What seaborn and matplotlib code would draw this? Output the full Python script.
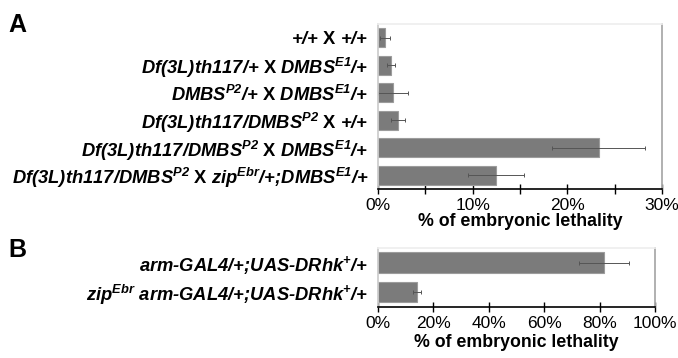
import matplotlib
matplotlib.use("Agg")
import matplotlib.pyplot as plt
from matplotlib.ticker import MultipleLocator, PercentFormatter
import numpy as np
import pandas as pd
import seaborn as sns

# Panel A: crosses and lethality (%)
a_labels = [
    r"+/+ $\mathbf{X}$ +/+",
    r"Df(3L)th117/+ $\mathbf{X}$ DMBS$^{E1}$/+",
    r"DMBS$^{P2}$/+ $\mathbf{X}$ DMBS$^{E1}$/+",
    r"Df(3L)th117/DMBS$^{P2}$ $\mathbf{X}$ +/+",
    r"Df(3L)th117/DMBS$^{P2}$ $\mathbf{X}$ DMBS$^{E1}$/+",
    r"Df(3L)th117/DMBS$^{P2}$ $\mathbf{X}$ zip$^{Ebr}$/+;DMBS$^{E1}$/+",
]
a_values = [0.74, 1.38, 1.6, 2.12, 23.3, 12.5]
a_errors = [0.55, 0.45, 1.6, 0.78, 4.95, 2.95]

# Panel B
b_labels = [
    r"arm-GAL4/+;UAS-DRhk$^{+}$/+",
    r"zip$^{Ebr}$ arm-GAL4/+;UAS-DRhk$^{+}$/+",
]
b_values = [81.5, 14.1]
b_errors = [9.1, 1.6]

sns.set_theme(style="white")
plt.rcParams["font.family"] = ["Liberation Sans", "DejaVu Sans"]
plt.rcParams["mathtext.fontset"] = "custom"
plt.rcParams["mathtext.rm"] = "Liberation Sans:bold:italic"
plt.rcParams["mathtext.it"] = "Liberation Sans:bold:italic"
plt.rcParams["mathtext.bf"] = "Liberation Sans:bold"
plt.rcParams["text.color"] = "black"
plt.rcParams["xtick.labelcolor"] = "black"
plt.rcParams["ytick.labelcolor"] = "black"
plt.rcParams["axes.labelcolor"] = "black"

BAR = "#7b7b7b"

fig = plt.figure(figsize=(6.78, 3.58), dpi=100)
ax_a = fig.add_axes([0.5575, 0.472, 0.419, 0.461])
ax_b = fig.add_axes([0.5575, 0.1425, 0.4086, 0.165])


def draw(ax, labels, values, errors, xmax, major, minor, labelpad):
    df = pd.DataFrame({"cross": labels, "lethality": values})
    sns.barplot(data=df, x="lethality", y="cross", orient="h", color=BAR,
                saturation=1, width=0.69, errorbar=None, edgecolor="#9c9c9c",
                linewidth=0.8, ax=ax)
    ax.errorbar(values, np.arange(len(values)), xerr=errors, fmt="none",
                ecolor="#555555", elinewidth=0.7, capsize=1.5, capthick=0.7)
    ax.set_xlim(0, xmax)
    ax.set_ylim(len(values) - 0.5, -0.5)
    ax.xaxis.set_major_locator(MultipleLocator(major))
    ax.xaxis.set_minor_locator(MultipleLocator(minor))
    ax.xaxis.set_major_formatter(PercentFormatter(decimals=0))
    ax.tick_params(axis="x", which="both", direction="inout", length=7,
                   width=1, color="black", bottom=True, labelsize=12.5, pad=3)
    ax.tick_params(axis="y", left=False, pad=1)
    for lab in ax.get_yticklabels():
        lab.set_fontsize(13.2)
        lab.set_fontweight("bold")
        lab.set_fontstyle("italic")
    ax.set_ylabel("")
    ax.set_xlabel("% of embryonic lethality", fontsize=12.8,
                  fontweight="bold", labelpad=labelpad)
    ax.spines["bottom"].set_color("black")
    ax.spines["bottom"].set_linewidth(1.2)
    ax.spines["top"].set_color("#eeeeee")
    ax.spines["left"].set_color("#cccccc")
    ax.spines["right"].set_color("#aaaaaa")
    ax.spines["right"].set_linewidth(1.3)


draw(ax_a, a_labels, a_values, a_errors, 30, 10, 5, 0)
draw(ax_b, b_labels, b_values, b_errors, 100, 20, 20, 2.5)

fig.text(0.012, 0.965, "A", fontsize=18, fontweight="bold", va="top")
fig.text(0.012, 0.335, "B", fontsize=18, fontweight="bold", va="top")

fig.savefig("out.png", dpi=100)
